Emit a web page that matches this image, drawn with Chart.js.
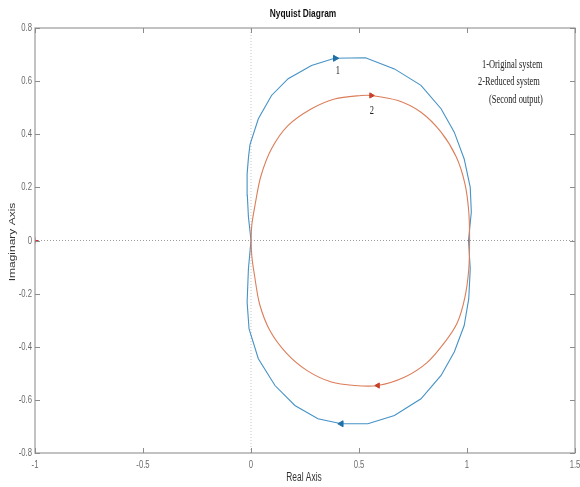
<!DOCTYPE html>
<html>
<head>
<meta charset="utf-8">
<script src="https://cdn.jsdelivr.net/npm/chart.js@4.4.1/dist/chart.umd.min.js"></script>
<style>
  html, body { margin: 0; padding: 0; background: #ffffff; }
  #wrap { width: 580px; height: 487px; position: relative; }
</style>
</head>
<body>
<div id="wrap"><canvas id="nyq" width="580" height="487"></canvas></div>
<script>
// Axis ticks
const xTicks = [-1, -0.5, 0, 0.5, 1, 1.5];
const yTicks = [-0.8, -0.6, -0.4, -0.2, 0, 0.2, 0.4, 0.6, 0.8];

// Curve 1: original system (real / imaginary parts along the contour)
const originalRe = [0, -0.012, -0.017, -0.018, -0.012, -0.005, 0.034, 0.095, 0.172, 0.28, 0.387, 0.53,
  0.664, 0.787, 0.88, 0.941, 0.987, 1.015, 1.02, 1.007, 1.015, 1.008, 0.987, 0.941, 0.88, 0.787,
  0.664, 0.541, 0.418, 0.31, 0.203, 0.111, 0.034, -0.009, -0.018, -0.012, 0];
const originalIm = [0, 0.09, 0.17, 0.25, 0.31, 0.36, 0.458, 0.546, 0.609, 0.659, 0.686, 0.688,
  0.646, 0.584, 0.496, 0.408, 0.307, 0.2, 0.107, 0, -0.107, -0.22, -0.32, -0.42, -0.508, -0.596,
  -0.659, -0.69, -0.69, -0.671, -0.621, -0.546, -0.445, -0.333, -0.232, -0.107, 0];

// Curve 2: reduced system (second output)
const reducedRe = [0, 0.004, 0.018, 0.045, 0.095, 0.172, 0.28, 0.387, 0.51, 0.557, 0.68, 0.787, 0.88,
  0.95, 0.99, 1.008, 1.012, 1.008, 0.99, 0.955, 0.9, 0.815, 0.71, 0.587, 0.48, 0.372, 0.26,
  0.165, 0.088, 0.04, 0.016, 0.004, 0];
const reducedIm = [0, 0.06, 0.13, 0.24, 0.345, 0.433, 0.496, 0.533, 0.546, 0.546, 0.527, 0.483, 0.408,
  0.315, 0.215, 0.11, 0, -0.11, -0.215, -0.31, -0.38, -0.46, -0.515, -0.546, -0.546, -0.533,
  -0.49, -0.425, -0.34, -0.24, -0.13, -0.06, 0];

// Direction arrows on each curve (upper branch, lower branch)
const originalArrowRe = [0.39, 0.418];
const originalArrowIm = [0.686, -0.69];
const reducedArrowRe = [0.557, 0.587];
const reducedArrowIm = [0.546, -0.546];

// Critical point -1 + j0
const criticalRe = [-1];
const criticalIm = [0];

// Curve captions and legend note
const curveNames = ['1', '2'];
const noteLines = ['1-Original system', '2-Reduced system', '(Second output)'];

const zip = (re, im) => re.map((v, i) => ({ x: v, y: im[i] }));

const BLUE = '#4592c6';
const RED = '#dc7d5a';
const TEXT_SX = 0.7; // horizontal squeeze used for all lettering

function squeezedText(ctx, str, x, y, align, sx) {
  ctx.save();
  ctx.translate(x, y);
  ctx.scale(sx, 1);
  ctx.textAlign = align;
  ctx.fillText(str, 0, 0);
  ctx.restore();
}

const framePlugin = {
  id: 'matlabFrame',
  afterDraw(chart) {
    const ctx = chart.ctx;
    const { left, right, top, bottom } = chart.chartArea;
    const xs = chart.scales.x, ys = chart.scales.y;

    ctx.save();
    // axes box
    ctx.strokeStyle = '#9a9a9a';
    ctx.lineWidth = 1.2;
    ctx.strokeRect(left, top, right - left, bottom - top);

    // inward tick marks on all sides
    ctx.strokeStyle = '#8c8c8c';
    ctx.lineWidth = 1;
    const tl = 5;
    ctx.beginPath();
    xTicks.forEach(v => {
      const px = Math.round(xs.getPixelForValue(v)) + 0.5;
      ctx.moveTo(px, bottom); ctx.lineTo(px, bottom - tl);
      ctx.moveTo(px, top); ctx.lineTo(px, top + tl);
    });
    yTicks.forEach(v => {
      const py = Math.round(ys.getPixelForValue(v)) + 0.5;
      ctx.moveTo(left, py); ctx.lineTo(left + tl, py);
      ctx.moveTo(right, py); ctx.lineTo(right - tl, py);
    });
    ctx.stroke();

    // tick labels
    ctx.fillStyle = '#6a6a6a';
    ctx.font = '11px "Liberation Sans", Arial, sans-serif';
    ctx.textBaseline = 'middle';
    xTicks.forEach(v => {
      squeezedText(ctx, String(v), xs.getPixelForValue(v), bottom + 12, 'center', TEXT_SX);
    });
    yTicks.forEach(v => {
      squeezedText(ctx, String(v), left - 3, ys.getPixelForValue(v), 'right', TEXT_SX);
    });

    // title
    ctx.fillStyle = '#111111';
    ctx.font = 'bold 11px "Liberation Sans", Arial, sans-serif';
    squeezedText(ctx, 'Nyquist Diagram', 303, 14, 'center', 0.76);

    // axis titles
    ctx.fillStyle = '#333333';
    ctx.font = '12px "Liberation Sans", Arial, sans-serif';
    squeezedText(ctx, 'Real Axis', 304, 478, 'center', TEXT_SX);
    ctx.save();
    ctx.translate(13, 242);
    ctx.rotate(-Math.PI / 2);
    ctx.scale(1, TEXT_SX);
    ctx.textAlign = 'center';
    ctx.textBaseline = 'middle';
    ctx.fillText('Imaginary Axis', 0, 0);
    ctx.restore();

    // curve captions
    ctx.fillStyle = '#222222';
    ctx.font = '12px "Liberation Serif", "Times New Roman", serif';
    squeezedText(ctx, curveNames[0], xs.getPixelForValue(0.402), ys.getPixelForValue(0.64), 'center', TEXT_SX);
    squeezedText(ctx, curveNames[1], xs.getPixelForValue(0.56), ys.getPixelForValue(0.49), 'center', TEXT_SX);

    // note
    const noteX = [482, 478, 489];
    const noteY = [65, 82, 100];
    noteLines.forEach((s, i) => squeezedText(ctx, s, noteX[i], noteY[i], 'left', TEXT_SX));
    ctx.restore();
  }
};

new Chart(document.getElementById('nyq'), {
  type: 'scatter',
  data: {
    datasets: [
      {
        label: 'Re axis',
        data: [{ x: xTicks[0], y: 0 }, { x: xTicks[xTicks.length - 1], y: 0 }],
        showLine: true, borderColor: '#9c9c9c', borderWidth: 1, borderDash: [1, 2],
        pointRadius: 0, order: 10
      },
      {
        label: 'Im axis',
        data: [{ x: 0, y: yTicks[0] }, { x: 0, y: yTicks[yTicks.length - 1] }],
        showLine: true, borderColor: '#c4c4c4', borderWidth: 1, borderDash: [1, 2],
        pointRadius: 0, order: 10
      },
      {
        label: 'Original system',
        data: zip(originalRe, originalIm),
        showLine: true, borderColor: BLUE, borderWidth: 1.1, tension: 0,
        pointRadius: 0, order: 3
      },
      {
        label: 'Reduced system',
        data: zip(reducedRe, reducedIm),
        showLine: true, borderColor: RED, borderWidth: 1.1, tension: 0.3,
        pointRadius: 0, order: 2
      },
      {
        label: 'Original arrows',
        data: zip(originalArrowRe, originalArrowIm),
        showLine: false, pointStyle: 'triangle', pointRotation: [90, -90],
        pointRadius: 3.5, backgroundColor: '#1f6fa8', borderColor: '#1f6fa8', order: 1
      },
      {
        label: 'Reduced arrows',
        data: zip(reducedArrowRe, reducedArrowIm),
        showLine: false, pointStyle: 'triangle', pointRotation: [90, -90],
        pointRadius: 3, backgroundColor: '#c8402a', borderColor: '#c8402a', order: 1
      },
      {
        label: 'Critical point',
        data: zip(criticalRe, criticalIm),
        showLine: false, pointStyle: 'cross', pointRadius: 3,
        borderColor: '#d0302a', borderWidth: 1, order: 1
      }
    ]
  },
  options: {
    responsive: false,
    animation: false,
    events: [],
    layout: { padding: { left: 0, right: 3, top: 28, bottom: 0 } },
    plugins: { legend: { display: false }, tooltip: { enabled: false }, title: { display: false } },
    scales: {
      x: {
        type: 'linear', min: xTicks[0], max: xTicks[xTicks.length - 1],
        grid: { display: false, drawTicks: false },
        border: { display: false },
        ticks: { display: false },
        afterFit(scale) { scale.height = 34; scale.paddingLeft = 0; scale.paddingRight = 0; }
      },
      y: {
        type: 'linear', min: yTicks[0], max: yTicks[yTicks.length - 1],
        grid: { display: false, drawTicks: false },
        border: { display: false },
        ticks: { display: false },
        afterFit(scale) { scale.width = 35; scale.paddingTop = 0; scale.paddingBottom = 0; }
      }
    }
  },
  plugins: [framePlugin]
});
</script>
</body>
</html>
